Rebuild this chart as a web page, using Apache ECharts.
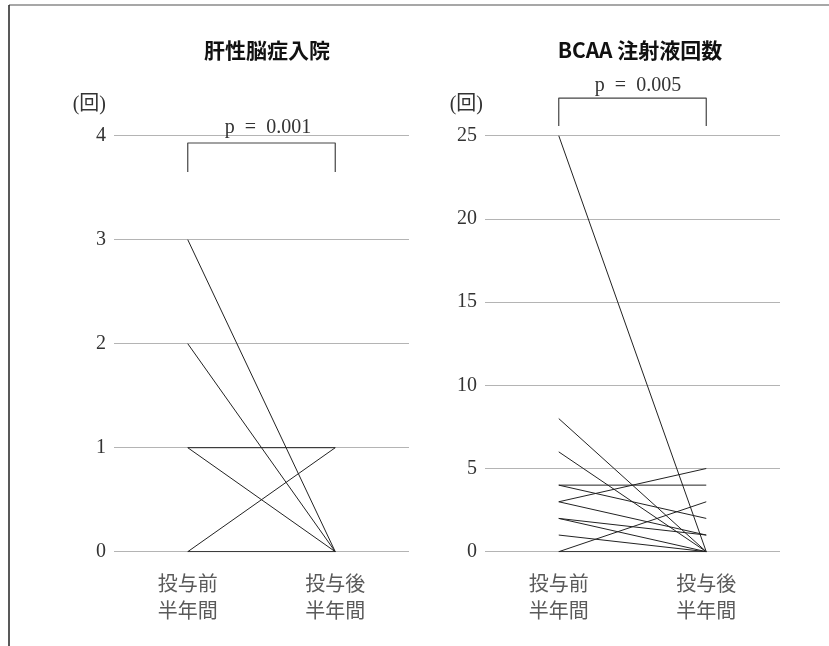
<!DOCTYPE html>
<html>
<head>
<meta charset="utf-8">
<script src="https://cdn.jsdelivr.net/npm/echarts@6/dist/echarts.min.js"></script>
<style>
  html, body { margin: 0; padding: 0; background: #fff; }
  #chart { width: 829px; height: 646px; }
</style>
</head>
<body>
<div id="chart"></div>
<script>
// Periods compared (before / after six months of treatment)
const categories = ['投与前\n半年間', '投与後\n半年間'];

// Panel titles
const titles = ['肝性脳症入院', 'BCAA 注射液回数'];

// Hospital admissions for hepatic encephalopathy, one pair per patient
const hePre  = [3, 2, 1, 1, 0, 0];
const hePost = [0, 0, 1, 0, 1, 0];

// BCAA infusion counts, one pair per patient
const bcaaPre  = [25, 8, 6, 4, 4, 3, 3, 2, 2, 1, 0, 0];
const bcaaPost = [0, 0, 0, 4, 2, 5, 1, 1, 0, 0, 3, 0];

// Y-axis ranges and steps
const heAxis   = { min: 0, max: 4,  interval: 1 };
const bcaaAxis = { min: 0, max: 25, interval: 5 };

// Significance brackets: [foot, top] in axis units, with p-values
const heBracket   = [3.65, 3.93];
const bcaaBracket = [25.58, 27.26];
const pLabels = ['p\u2002=\u20020.001', 'p\u2002=\u20020.005'];

const unitLabel = '(回)';

const serif = '"Liberation Serif", "Noto Sans CJK JP", serif';
const sans = '"Noto Sans CJK JP", sans-serif';

const grids = [
  { left: 114, top: 135.7, width: 295, height: 416 },
  { left: 485, top: 135.7, width: 295, height: 416 }
];

function xAxisFor(i) {
  return {
    type: 'category', gridIndex: i, data: categories,
    axisLine: { show: false }, axisTick: { show: false },
    axisLabel: { color: '#5a5a5a', fontFamily: sans, fontSize: 20, lineHeight: 27, margin: 18 }
  };
}

function yAxisFor(i, range, namePad) {
  return {
    type: 'value', gridIndex: i, min: range.min, max: range.max, interval: range.interval,
    axisLine: { show: false }, axisTick: { show: false },
    splitLine: { lineStyle: { color: '#b4b4b4', width: 1 } },
    axisLabel: { color: '#333', fontFamily: serif, fontSize: 20, margin: 8 },
    name: unitLabel, nameLocation: 'end', nameGap: 21,
    nameTextStyle: { color: '#333', fontFamily: serif, fontSize: 20, align: 'right', padding: [0, namePad, 0, 0] }
  };
}

function pairSeries(pre, post, idx) {
  return pre.map((v, k) => ({
    type: 'line', xAxisIndex: idx, yAxisIndex: idx,
    data: [v, post[k]],
    symbol: 'none', silent: true,
    lineStyle: { color: '#222', width: 1 },
    z: 3
  }));
}

function bracketSeries(b, idx) {
  return {
    type: 'line', xAxisIndex: idx, yAxisIndex: idx,
    data: [[categories[0], b[0]], [categories[0], b[1]], [categories[1], b[1]], [categories[1], b[0]]],
    symbol: 'none', silent: true, clip: false,
    lineStyle: { color: '#444', width: 1.2 }
  };
}

const chart = echarts.init(document.getElementById('chart'), null, { renderer: 'canvas' });

const titleStyle = { fontFamily: sans, fontSize: 21, fontWeight: 'bold', color: '#111', lineHeight: 24 };
const pStyle = { fontFamily: serif, fontSize: 20, fontWeight: 'normal', color: '#333', lineHeight: 24 };

chart.setOption({
  backgroundColor: '#fff',
  animation: false,
  title: [
    { text: titles[0], left: 262, top: 33, textAlign: 'center', textStyle: titleStyle },
    { text: titles[1], left: 635, top: 33, textAlign: 'center', textStyle: titleStyle },
    { text: pLabels[0], left: 263, top: 111, textAlign: 'center', textStyle: pStyle },
    { text: pLabels[1], left: 633, top: 69, textAlign: 'center', textStyle: pStyle }
  ],
  graphic: [
    { type: 'line', shape: { x1: 9, y1: 5, x2: 829, y2: 5 }, style: { stroke: '#8a8a8a', lineWidth: 1.5 } },
    { type: 'line', shape: { x1: 9, y1: 5, x2: 9, y2: 646 }, style: { stroke: '#222', lineWidth: 1.5 } }
  ],
  grid: grids,
  xAxis: [xAxisFor(0), xAxisFor(1)],
  yAxis: [yAxisFor(0, heAxis, 8), yAxisFor(1, bcaaAxis, 2)],
  series: [
    ...pairSeries(hePre, hePost, 0),
    ...pairSeries(bcaaPre, bcaaPost, 1),
    bracketSeries(heBracket, 0),
    bracketSeries(bcaaBracket, 1)
  ]
});
</script>
</body>
</html>
